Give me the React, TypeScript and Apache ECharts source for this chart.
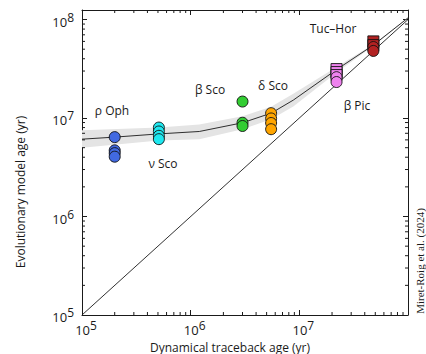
import { useEffect, useRef } from "react";
import * as echarts from "echarts";

const SANS = "'Open Sans', 'Noto Sans', sans-serif";
const SERIF = "'Liberation Serif', 'DejaVu Serif', serif";

// Axis ranges
const xMin = 1e5;
const xMax = 1e8;
const yMin = 1e5;
const yMax = 1.25e8;

// Association data: dynamical traceback age (x) and evolutionary model ages (y)
const rhoOphX = 2.0e5;
const rhoOphAges = [6.4e6, 4.7e6, 4.4e6, 4.05e6];
const nuScoX = 5.1e5;
const nuScoAges = [8.0e6, 7.3e6, 6.6e6, 6.1e6];
const betaScoX = 3.0e6;
const betaScoAges = [1.47e7, 8.95e6, 8.3e6];
const deltaScoX = 5.5e6;
const deltaScoAges = [1.12e7, 9.9e6, 8.9e6, 7.7e6];
const betaPicX = 2.2e7;
const betaPicSquareAges = [3.14e7, 2.93e7, 2.73e7];
const betaPicCircleAges = [2.6e7, 2.32e7];
const tucHorX = 4.8e7;
const tucHorSquareAges = [6.0e7, 5.5e7];
const tucHorCircleAges = [5.26e7, 4.8e7];

// Model curve and its uncertainty band
const curveX = [1e5, 2e5, 5.1e5, 1.2e6, 3.0e6, 5.5e6, 8.8e6, 2.2e7, 4.8e7, 1e8];
const curveY = [6.1e6, 6.4e6, 6.9e6, 7.3e6, 8.95e6, 1.12e7, 1.52e7, 3.1e7, 5.5e7, 1.04e8];
const bandX = [1e5, 5.1e5, 1.2e6, 3.0e6, 5.5e6, 8.8e6, 2.2e7, 4.8e7, 1e8];
const bandLow = [5.0e6, 5.9e6, 6.1e6, 7.7e6, 9.7e6, 1.31e7, 2.9e7, 5.4e7, 1.03e8];
const bandHigh = [7.5e6, 8.0e6, 8.6e6, 1.04e7, 1.3e7, 1.76e7, 3.3e7, 5.6e7, 1.05e8];

// 1:1 line
const oneToOneX = [1e5, 1e8];

// minor tick multipliers and decades
const minorMults = [2, 3, 4, 5, 6, 7, 8, 9];
const decades = [1e5, 1e6, 1e7, 1e8];

const labels = [
  { text: "ρ Oph", x: 112, y: 110 },
  { text: "ν Sco", x: 163, y: 163 },
  { text: "β Sco", x: 210, y: 89 },
  { text: "δ Sco", x: 273, y: 85 },
  { text: "β Pic", x: 357, y: 105 },
  { text: "Tuc–Hor", x: 333, y: 28 },
];

const INK = "#1a1a1a";

function expLabel(v: number) {
  const l = Math.log10(v);
  const e = Math.round(l);
  if (Math.abs(l - e) > 1e-6) return "";
  return `{b|10}{e|${e}}`;
}

const rich = {
  b: { fontSize: 13, fontFamily: SANS, color: INK, lineHeight: 17, verticalAlign: "bottom" },
  e: { fontSize: 12, fontFamily: SANS, color: INK, lineHeight: 17, verticalAlign: "top" },
};

function pts(x: number, ages: number[]) {
  return ages.map((a) => [x, a]);
}

export default function App() {
  const ref = useRef<HTMLDivElement>(null);
  useEffect(() => {
    if (!ref.current) return;
    const chart = echarts.init(ref.current, undefined, { renderer: "svg" });

    const minorData: number[][] = [];
    decades.forEach((d) => {
      minorMults.forEach((m) => {
        const v = m * d;
        if (v < xMax) minorData.push([v, yMin, 0]);
        if (v < yMax) minorData.push([xMin, v, 1]);
      });
    });

    const axisCommon = {
      type: "log" as const,
      logBase: 10,
      axisLine: { show: true, lineStyle: { color: INK, width: 1 } },
      axisTick: { show: true, inside: true, length: 5, lineStyle: { color: INK, width: 1 } },
      splitLine: { show: false },
      minorTick: { show: false },
    };

    const scatterStyle = (color: string) => ({
      color,
      borderColor: "#111",
      borderWidth: 0.9,
      opacity: 1,
    });

    const circle = (name: string, data: number[][], color: string) => ({
      name,
      type: "scatter",
      symbol: "circle",
      symbolSize: 11,
      data,
      itemStyle: scatterStyle(color),
      z: 5,
    });
    const square = (name: string, data: number[][], color: string) => ({
      name,
      type: "scatter",
      symbol: "rect",
      symbolSize: 11,
      data,
      itemStyle: scatterStyle(color),
      z: 4,
    });

    chart.setOption({
      animation: false,
      grid: { left: 82, right: 18, top: 10, bottom: 39 },
      xAxis: [
        {
          ...axisCommon,
          min: xMin,
          max: xMax,
          position: "bottom",
          axisLabel: {
            formatter: expLabel,
            rich,
            margin: 4,
            padding: [0, 0, 0, 8],
            showMaxLabel: false,
          },
        },
        {
          ...axisCommon,
          min: xMin,
          max: xMax,
          position: "top",
          axisLabel: { show: false },
        },
      ],
      yAxis: [
        {
          ...axisCommon,
          min: yMin,
          max: yMax,
          position: "left",
          axisLabel: { formatter: expLabel, rich, margin: 8 },
        },
        {
          ...axisCommon,
          min: yMin,
          max: yMax,
          position: "right",
          axisLabel: { show: false },
        },
      ],
      series: [
        {
          type: "custom",
          name: "band",
          silent: true,
          z: 1,
          data: [[bandX[0], bandLow[0]]],
          renderItem: (_params: any, api: any) => {
            const points: number[][] = [];
            for (let i = 0; i < bandX.length; i++) points.push(api.coord([bandX[i], bandHigh[i]]));
            for (let i = bandX.length - 1; i >= 0; i--) points.push(api.coord([bandX[i], bandLow[i]]));
            return { type: "polygon", shape: { points }, style: { fill: "#e4e4e4" } };
          },
        },
        {
          type: "custom",
          name: "minorTicks",
          silent: true,
          clip: false,
          z: 3,
          data: minorData,
          renderItem: (_params: any, api: any) => {
            const kind = api.value(2);
            const style = { stroke: INK, lineWidth: 1 };
            if (kind === 0) {
              const v = api.value(0);
              const b = api.coord([v, yMin]);
              const t = api.coord([v, yMax]);
              return {
                type: "group",
                children: [
                  { type: "line", shape: { x1: b[0], y1: b[1], x2: b[0], y2: b[1] - 3 }, style },
                  { type: "line", shape: { x1: t[0], y1: t[1], x2: t[0], y2: t[1] + 3 }, style },
                ],
              };
            }
            const v = api.value(1);
            const l = api.coord([xMin, v]);
            const r = api.coord([xMax, v]);
            return {
              type: "group",
              children: [
                { type: "line", shape: { x1: l[0], y1: l[1], x2: l[0] + 3, y2: l[1] }, style },
                { type: "line", shape: { x1: r[0], y1: r[1], x2: r[0] - 3, y2: r[1] }, style },
              ],
            };
          },
        },
        {
          type: "line",
          name: "1:1",
          data: oneToOneX.map((v) => [v, v]),
          symbol: "none",
          lineStyle: { color: INK, width: 0.9 },
          z: 2,
        },
        {
          type: "line",
          name: "model",
          data: curveX.map((v, i) => [v, curveY[i]]),
          symbol: "none",
          lineStyle: { color: INK, width: 0.9 },
          z: 2,
        },
        circle("ρ Oph", pts(rhoOphX, rhoOphAges), "#4169e1"),
        circle("ν Sco", pts(nuScoX, nuScoAges), "#1ee8f0"),
        circle("β Sco", pts(betaScoX, betaScoAges), "#32cd32"),
        circle("δ Sco", pts(deltaScoX, deltaScoAges), "#ffa500"),
        square("β Pic sq", pts(betaPicX, betaPicSquareAges), "#ee82ee"),
        circle("β Pic", pts(betaPicX, betaPicCircleAges), "#ee82ee"),
        square("Tuc-Hor sq", pts(tucHorX, tucHorSquareAges), "#b22222"),
        circle("Tuc-Hor", pts(tucHorX, tucHorCircleAges), "#b22222"),
      ],
      graphic: [
        ...labels.map((l) => ({
          type: "text",
          x: l.x,
          y: l.y,
          z: 10,
          style: {
            text: l.text,
            fill: INK,
            font: `12px ${SANS}`,
            textAlign: "center",
            textVerticalAlign: "middle",
          },
        })),
        {
          type: "text",
          x: 230,
          y: 347,
          style: {
            text: "Dynamical traceback age (yr)",
            fill: INK,
            font: `12px ${SANS}`,
            textAlign: "center",
            textVerticalAlign: "middle",
          },
        },
        {
          type: "text",
          x: 20,
          y: 192,
          rotation: Math.PI / 2,
          style: {
            text: "Evolutionary model age (yr)",
            fill: INK,
            font: `12px ${SANS}`,
            textAlign: "center",
            textVerticalAlign: "middle",
          },
        },
        {
          type: "text",
          x: 420,
          y: 261,
          rotation: Math.PI / 2,
          style: {
            text: "Miret-Roig et al. (2024)",
            fill: INK,
            font: `11px ${SERIF}`,
            textAlign: "center",
            textVerticalAlign: "middle",
          },
        },
      ],
    });
    return () => chart.dispose();
  }, []);
  return (
    <div
      ref={ref}
      style={{ position: "fixed", left: 0, top: 0, width: 426, height: 354, background: "#fff" }}
    />
  );
}
